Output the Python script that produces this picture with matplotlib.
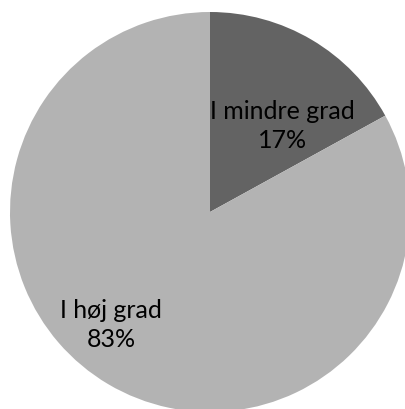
import matplotlib
matplotlib.use("Agg")
import matplotlib.pyplot as plt

# data
labels = ["I mindre grad", "I høj grad"]
shares = [17, 83]
colors = ["#636363", "#b3b3b3"]

plt.rcParams["font.family"] = ["Lato", "DejaVu Sans"]

fig = plt.figure(figsize=(4.06, 4.09), dpi=100)
ax = fig.add_axes([0, 0, 1, 1])

# pie starts at 12 o'clock and runs clockwise, like the Excel original
wedges, _ = ax.pie(shares, colors=colors, startangle=90, counterclock=False,
                   radius=1.0, center=(0, 0),
                   wedgeprops=dict(linewidth=0))

# label positions (data coords, pie radius = 1)
label_pos = [(0.362, 0.43), (-0.495, -0.565)]
for name, val, (x, y) in zip(labels, shares, label_pos):
    ax.text(x, y, f"{name}\n{val}%", ha="center", va="center",
            fontsize=18, color="#000000", linespacing=1.35)

ax.set_aspect("auto")
ax.set_xlim(-1.05, 0.98)
ax.set_ylim(-0.985, 1.06)
ax.axis("off")

fig.savefig("out.png", dpi=100, facecolor="white")
